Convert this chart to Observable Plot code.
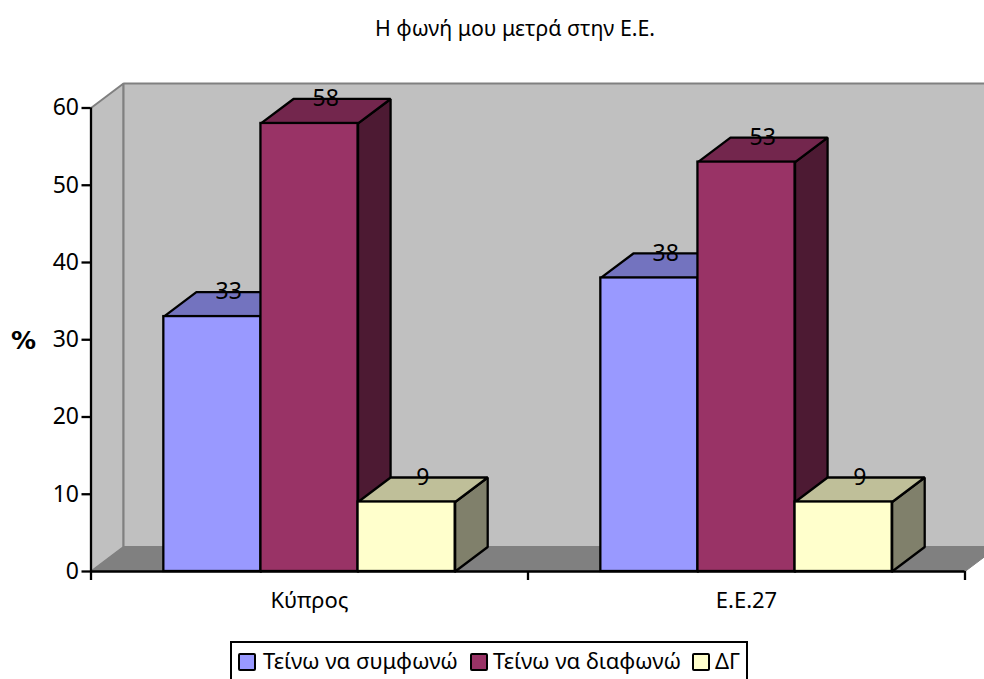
<!DOCTYPE html>
<html><head><meta charset="utf-8">
<script src="https://cdn.jsdelivr.net/npm/d3@7"></script>
<script src="https://cdn.jsdelivr.net/npm/@observablehq/plot@0.6"></script>
<style>
html,body{margin:0;padding:0;background:#fff;overflow:hidden;width:984px;height:679px}
body{position:relative;font-family:"Noto Sans","DejaVu Sans",sans-serif;color:#000}
#title{position:absolute;left:0;top:14px;width:1030px;text-align:center;font-size:21.3px;line-height:28px}
#chart{position:absolute;left:0;top:60px}
#legend{position:absolute;left:230px;top:641px;width:514px;height:60px;border:2px solid #000;box-sizing:content-box;font-size:22px}
.sw{position:absolute;top:10px;width:14px;height:14px;border:2px solid #000;border-radius:2px}
.lb{position:absolute;top:2px;white-space:nowrap;line-height:30px}
</style></head><body>
<div id="title"></div>
<div id="chart"></div>
<div id="legend"></div>
<script>
const titleText = "Η φωνή μου μετρά στην Ε.Ε.";
const categories = ["Κύπρος", "Ε.Ε.27"];
const seriesNames = ["Τείνω να συμφωνώ", "Τείνω να διαφωνώ", "ΔΓ"];
const agree = [33, 38];
const disagree = [58, 53];
const dontKnow = [9, 9];
const frontColors = ["#9999FF", "#993366", "#FFFFCC"];
const topColors = ["#7373BF", "#73264D", "#BFBF99"];
const sideColors = ["#4D4D80", "#4D1A33", "#80806B"];
const yTicks = [0, 10, 20, 30, 40, 50, 60];

// depth of the oblique projection, in data units
const dx3 = 0.335, dy3 = 3.17;
const groupGap = 0.75, groupWidth = 4.5, xMax = 9, yMax = 60;

const values = [agree, disagree, dontKnow];
const bars = [];
categories.forEach((c, g) => values.forEach((v, s) => {
  const x1 = g * groupWidth + groupGap + s;
  bars.push({category: c, series: s, x1, x2: x1 + 1, value: v[g]});
}));

const barStroke = 2.3;
const poly = (pts, fill, stroke, strokeWidth = barStroke) =>
  Plot.line([...pts, pts[0]].map(([x, y]) => ({x, y})), {x: "x", y: "y", fill, stroke, strokeWidth, strokeLinejoin: "miter"});

const walls = [
  poly([[0, 0], [dx3, dy3], [dx3, yMax + dy3], [0, yMax]], "#C0C0C0", "#808080", 2),
  poly([[dx3, dy3], [xMax + dx3, dy3], [xMax + dx3, yMax + dy3], [dx3, yMax + dy3]], "#C0C0C0", "#808080", 2),
  poly([[0, 0], [xMax, 0], [xMax + dx3, dy3], [dx3, dy3]], "#808080", "#808080", 1)
];

const barMarks = bars.flatMap(b => [
  poly([[b.x2, 0], [b.x2 + dx3, dy3], [b.x2 + dx3, b.value + dy3], [b.x2, b.value]], sideColors[b.series], "#000"),
  poly([[b.x1, b.value], [b.x1 + dx3, b.value + dy3], [b.x2 + dx3, b.value + dy3], [b.x2, b.value]], topColors[b.series], "#000"),
  Plot.rect([b], {x1: "x1", x2: "x2", y1: 0, y2: "value", fill: frontColors[b.series], stroke: "#000", strokeWidth: barStroke})
]);

const groupCenters = categories.map((c, g) => (g + 0.5) * groupWidth);
const fontFamily = '"Noto Sans","DejaVu Sans",sans-serif';

const plot = Plot.plot({
  width: 984, height: 565,
  marginLeft: 90.5, marginRight: 19.5, marginTop: 47.5, marginBottom: 54,
  style: {background: "transparent", fontFamily, overflow: "hidden"},
  x: {domain: [0, xMax], axis: null},
  y: {domain: [0, yMax], axis: null},
  marks: [
    ...walls,
    ...barMarks,
    Plot.text(bars, {
      x: d => (d.x1 + d.x2) / 2 + dx3 / 2, y: d => d.value + dy3,
      text: d => String(d.value), fontSize: 23, fill: "#000", lineAnchor: "middle"
    }),
    Plot.ruleX([0], {y1: 0, y2: yMax, stroke: "#000", strokeWidth: barStroke}),
    Plot.ruleY([0], {x1: 0, x2: xMax, stroke: "#000", strokeWidth: barStroke}),
    Plot.axisY({ticks: yTicks, tickSize: 9, tickPadding: 3, stroke: "#000", strokeWidth: barStroke, strokeOpacity: 1, fontSize: 23, fill: "#000", label: null}),
    Plot.axisX({ticks: [0, groupWidth, xMax], tickSize: 9, stroke: "#000", strokeWidth: barStroke, strokeOpacity: 1, tickFormat: () => "", label: null}),
    Plot.axisX({ticks: groupCenters, tickSize: 0, tickPadding: 21, fontSize: 22, fill: "#000", tickFormat: v => categories[groupCenters.indexOf(v)], label: null}),
    Plot.text(["%"], {frameAnchor: "left", y: [29.8], dx: -80, text: d => d, fontFamily: '"DejaVu Sans",sans-serif', fontSize: 25, fontWeight: "bold", fill: "#000", textAnchor: "start"})
  ]
});
document.getElementById("chart").append(plot);
document.getElementById("title").textContent = titleText;

const legend = document.getElementById("legend");
const swatchLeft = [6, 238, 460];
const labelLeft = [31, 261, 483];
seriesNames.forEach((name, i) => {
  const sw = document.createElement("div");
  sw.className = "sw"; sw.style.left = swatchLeft[i] + "px"; sw.style.background = frontColors[i];
  const lb = document.createElement("div");
  lb.className = "lb"; lb.style.left = labelLeft[i] + "px"; lb.textContent = name;
  legend.append(sw, lb);
});
</script>
</body></html>
